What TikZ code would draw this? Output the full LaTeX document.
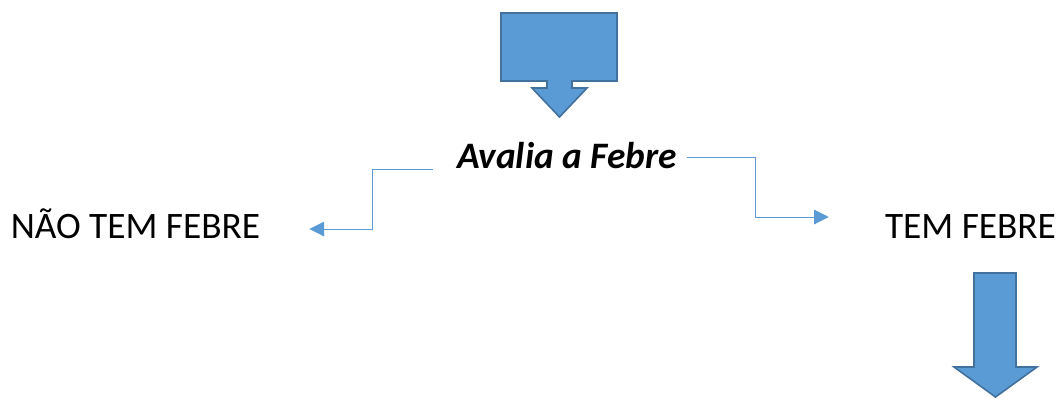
\documentclass[tikz,border=0pt]{standalone}
\usepackage{fontspec}
\setmainfont{Carlito}
\usetikzlibrary{arrows.meta, calc}
\definecolor{boxblue}{HTML}{5B9BD5}
\definecolor{edgeblue}{HTML}{41719C}

\begin{document}
\begin{tikzpicture}[x=0.75pt, y=-0.75pt,
		lbl/.style={inner sep=0pt, text height=18pt, text depth=0pt, font=\fontsize{28}{32}\selectfont},
		conn/.style={draw=boxblue, line width=0.75pt, -{Triangle[length=11pt, width=11pt]}},
		blockarrow/.style={fill=boxblue, draw=edgeblue, line width=1.2pt, line join=miter}]
		\useasboundingbox (0,0) rectangle (1061,405);
		%top
			%callout
			\filldraw [blockarrow] (501,13) -- (617,13) -- (617,81) -- (572,81) -- (572,88) -- (587,88) -- (559.5,117) -- (532,88) -- (547,88) -- (547,81) -- (501,81) -- cycle;
			%question
			\node [lbl, font=\fontsize{28}{32}\selectfont\bfseries\itshape] (avalia) at (567,156) {Avalia a Febre};
		%middle
			%left side
			\node [lbl] (nao) at (135.5,226.5) {NÃO TEM FEBRE};
			\draw [conn] ($(avalia.west)+(-24,13)$) -| ($(nao.east)+(112,2.5)$) -- ($(nao.east)+(49,2.5)$);
			%right side
			\node [lbl] (tem) at (970.5,226.5) {TEM FEBRE};
			\draw [conn] ($(avalia.east)+(10,1)$) -| ($(tem.west)+(-129,-9.5)$) -- ($(tem.west)+(-56,-9.5)$);
		%bottom
			\filldraw [blockarrow] (974,273) -- (1016,273) -- (1016,367) -- (1037,367) -- (995.5,397) -- (954,367) -- (974,367) -- cycle;
\end{tikzpicture}
\end{document}
